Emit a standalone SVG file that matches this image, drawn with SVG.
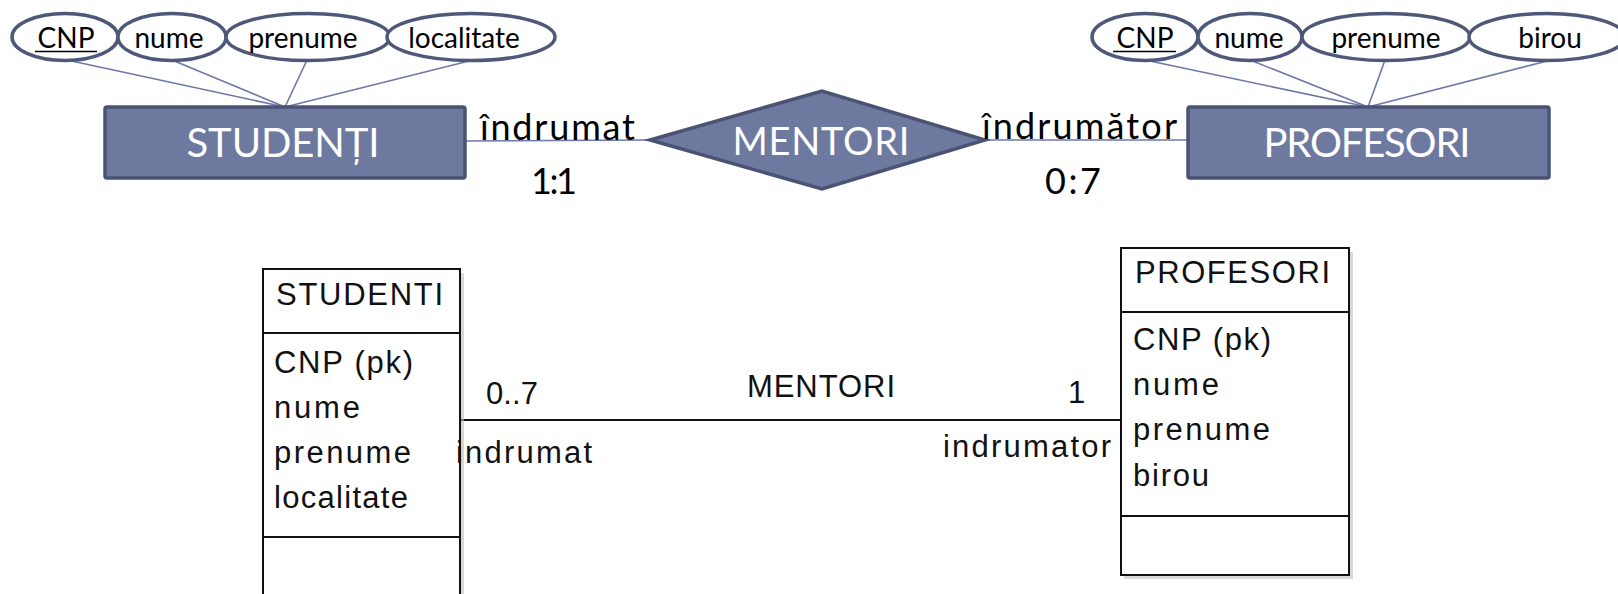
<svg xmlns="http://www.w3.org/2000/svg" width="1618" height="594" viewBox="0 0 1618 594">
<style>
  .attr { fill: #ffffff; stroke: #4E5879; stroke-width: 3.5; }
  .atxt { font-family: Lato, "Open Sans", sans-serif; font-size: 28px; fill: #000; text-anchor: middle; }
  .ent { fill: #6E79A0; stroke: #4A5373; stroke-width: 3.5; }
  .etxt { font-family: Lato, "Open Sans", sans-serif; font-size: 40px; fill: #ffffff; text-anchor: middle; }
  .link { stroke: #6B78A8; stroke-width: 1.6; fill: none; }
  .role { font-family: Lato, "Open Sans", sans-serif; font-size: 36px; fill: #000; }
  .uml { fill: #ffffff; stroke: #111; stroke-width: 2; }
  .sep { stroke: #111; stroke-width: 2; }
  .shadow { fill: #bdbdbd; opacity: 0.6; }
  .utxt { font-family: "Liberation Sans", Arial, sans-serif; font-size: 31px; fill: #111; }
</style>

<g id="connectors">
  <line class="link" x1="67" y1="60" x2="285" y2="107"/>
  <line class="link" x1="172" y1="60" x2="285" y2="107"/>
  <line class="link" x1="307" y1="60" x2="285" y2="107"/>
  <line class="link" x1="473" y1="60" x2="285" y2="107"/>
  <line class="link" x1="1145" y1="60" x2="1368" y2="107"/>
  <line class="link" x1="1250" y1="60" x2="1368" y2="107"/>
  <line class="link" x1="1385" y1="60" x2="1368" y2="107"/>
  <line class="link" x1="1551" y1="60" x2="1368" y2="107"/>
  <line class="link" x1="465" y1="141" x2="650" y2="140"/>
  <line class="link" x1="985" y1="140" x2="1188" y2="140"/>
  <line x1="460" y1="420" x2="1121" y2="420" stroke="#111" stroke-width="2"/>
</g>

<g id="attr-studenti-cnp">
  <ellipse class="attr" cx="65" cy="37" rx="53" ry="23.5"/>
  <text class="atxt" x="66" y="48">CNP</text>
  <line x1="35" y1="51.5" x2="97" y2="51.5" stroke="#000" stroke-width="1.6"/>
</g>
<g id="attr-studenti-nume">
  <ellipse class="attr" cx="172" cy="37" rx="54" ry="23.5"/>
  <text class="atxt" x="169" y="48">nume</text>
</g>
<g id="attr-studenti-prenume">
  <ellipse class="attr" cx="308" cy="37" rx="82" ry="23.5"/>
  <text class="atxt" x="303" y="48">prenume</text>
</g>
<g id="attr-studenti-localitate">
  <ellipse class="attr" cx="471" cy="37" rx="84" ry="23.5"/>
  <text class="atxt" x="464" y="48">localitate</text>
</g>

<g id="attr-profesori-cnp">
  <ellipse class="attr" cx="1145" cy="37" rx="53" ry="23.5"/>
  <text class="atxt" x="1145" y="48">CNP</text>
  <line x1="1113" y1="51.5" x2="1176" y2="51.5" stroke="#000" stroke-width="1.6"/>
</g>
<g id="attr-profesori-nume">
  <ellipse class="attr" cx="1250" cy="37" rx="52" ry="23.5"/>
  <text class="atxt" x="1249" y="48">nume</text>
</g>
<g id="attr-profesori-prenume">
  <ellipse class="attr" cx="1386" cy="37" rx="84" ry="23.5"/>
  <text class="atxt" x="1386" y="48">prenume</text>
</g>
<g id="attr-profesori-birou">
  <ellipse class="attr" cx="1547" cy="37" rx="78" ry="23.5"/>
  <text class="atxt" x="1550" y="48">birou</text>
</g>

<g id="entity-studenti">
  <rect class="ent" x="105" y="107" width="360" height="71" rx="2"/>
  <text class="etxt" x="283" y="157" textLength="193">STUDENȚI</text>
</g>
<g id="relationship-mentori">
  <polygon class="ent" points="650,140 822,91 985,140 822,189"/>
  <text class="etxt" x="821" y="155" style="font-size:38px" textLength="177">MENTORI</text>
</g>
<g id="entity-profesori">
  <rect class="ent" x="1188" y="107" width="361" height="71" rx="2"/>
  <text class="etxt" x="1367" y="157" textLength="207">PROFESORI</text>
</g>

<g id="labels-top">
  <text class="role" x="480" y="140" textLength="155">îndrumat</text>
  <text class="role" x="531" y="194" textLength="46">1:1</text>
  <text class="role" x="1045" y="194" textLength="56">0:7</text>
  <text class="role" x="982" y="139" textLength="195">îndrumător</text>
</g>

<g id="uml-studenti">
  <rect class="shadow" x="266" y="273" width="198" height="330"/>
  <rect class="uml" x="263" y="269" width="197" height="335"/>
  <line class="sep" x1="263" y1="333" x2="460" y2="333"/>
  <line class="sep" x1="263" y1="537" x2="460" y2="537"/>
  <text class="utxt" x="276" y="305" textLength="167">STUDENTI</text>
  <text class="utxt" x="274" y="373" textLength="139">CNP (pk)</text>
  <text class="utxt" x="274" y="418" textLength="86">nume</text>
  <text class="utxt" x="274" y="463" textLength="137">prenume</text>
  <text class="utxt" x="274" y="508" textLength="134">localitate</text>
</g>

<g id="uml-profesori">
  <rect class="shadow" x="1124" y="252" width="229" height="327"/>
  <rect class="uml" x="1121" y="248" width="228" height="327"/>
  <line class="sep" x1="1121" y1="312" x2="1349" y2="312"/>
  <line class="sep" x1="1121" y1="516" x2="1349" y2="516"/>
  <text class="utxt" x="1135" y="283" textLength="195">PROFESORI</text>
  <text class="utxt" x="1133" y="350" textLength="138">CNP (pk)</text>
  <text class="utxt" x="1133" y="395" textLength="86">nume</text>
  <text class="utxt" x="1133" y="440" textLength="137">prenume</text>
  <text class="utxt" x="1133" y="486" textLength="76">birou</text>
</g>

<g id="labels-uml">
  <text class="utxt" x="486" y="404" textLength="52">0..7</text>
  <text class="utxt" x="456" y="463" textLength="136">indrumat</text>
  <text class="utxt" x="747" y="397" textLength="148">MENTORI</text>
  <text class="utxt" x="1068" y="403">1</text>
  <text class="utxt" x="943" y="457" textLength="168">indrumator</text>
</g>
</svg>
